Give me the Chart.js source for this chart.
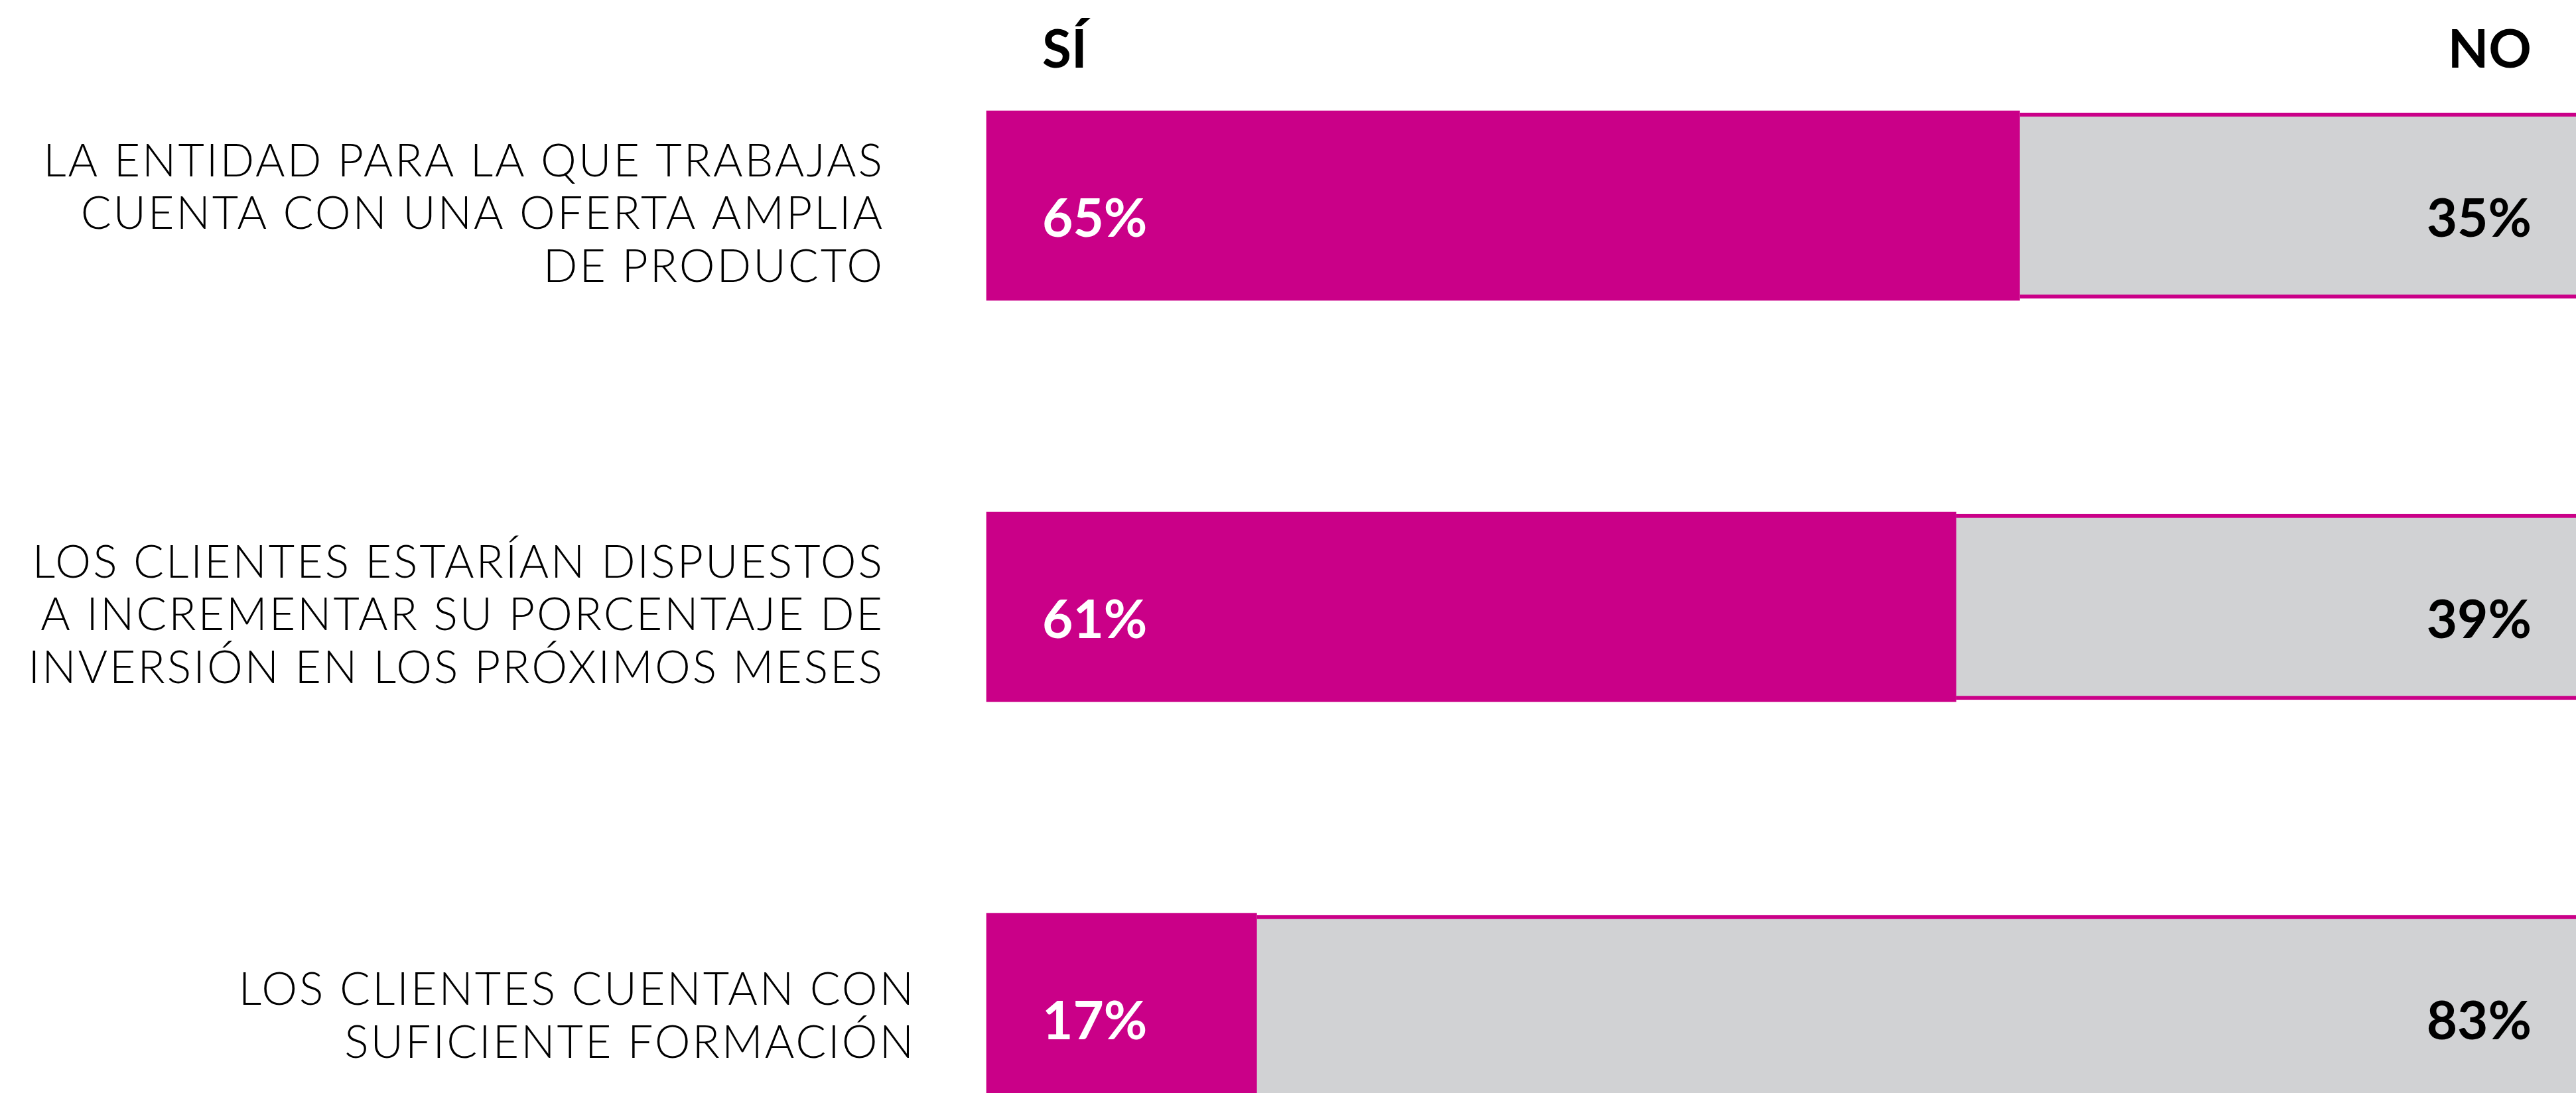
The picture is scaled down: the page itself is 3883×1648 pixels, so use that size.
<!DOCTYPE html>
<html lang="es">
<head>
<meta charset="utf-8">
<title>Encuesta: Sí / No</title>
<script src="https://cdn.jsdelivr.net/npm/chart.js@4/dist/chart.umd.min.js"></script>
<style>
  html, body { margin: 0; padding: 0; background: #ffffff; overflow: hidden; }
  #wrap { position: relative; width: 3883px; height: 1648px; }
</style>
</head>
<body>
<div id="wrap"><canvas id="chart"></canvas></div>
<script>
// Preguntas (cada una partida en líneas)
const categories = [
  ['LA ENTIDAD PARA LA QUE TRABAJAS', 'CUENTA CON UNA OFERTA AMPLIA', 'DE PRODUCTO'],
  ['LOS CLIENTES ESTARÍAN DISPUESTOS', 'A INCREMENTAR SU PORCENTAJE DE', 'INVERSIÓN EN LOS PRÓXIMOS MESES'],
  ['LOS CLIENTES CUENTAN CON', 'SUFICIENTE FORMACIÓN']
];
const seriesNames = ['SÍ', 'NO'];
const siValues = [65, 61, 17];
const noValues = [35, 39, 83];

const MAGENTA = '#ca0088';
const GREY = '#d1d2d4';

const LABEL_FONT = '300 68px Lato, "Open Sans", sans-serif';
const VALUE_FONT = '700 80px Lato, "Open Sans", sans-serif';

// Textos: cabeceras de serie, porcentajes y preguntas
const textPlugin = {
  id: 'texts',
  afterDatasetsDraw(chart) {
    const { ctx, scales } = chart;
    const x = scales.x, y = scales.y;
    const left = x.getPixelForValue(0);
    const right = x.getPixelForValue(100);
    ctx.save();

    // cabeceras SÍ / NO
    ctx.font = VALUE_FONT;
    ctx.fillStyle = '#000000';
    ctx.textBaseline = 'alphabetic';
    ctx.textAlign = 'left';
    ctx.fillText(chart.data.datasets[0].label, left + 84, 102);
    ctx.textAlign = 'right';
    ctx.fillText(chart.data.datasets[1].label, right - 67, 102);

    // porcentajes dentro de las barras
    chart.data.labels.forEach((_, i) => {
      const cy = y.getPixelForValue(i);
      ctx.font = VALUE_FONT;
      ctx.textAlign = 'left';
      ctx.fillStyle = '#ffffff';
      ctx.fillText(chart.data.datasets[0].data[i] + '%', left + 84, cy + 47);
      ctx.textAlign = 'right';
      ctx.fillStyle = '#000000';
      ctx.fillText(chart.data.datasets[1].data[i] + '%', right - 67, cy + 47);
    });

    // preguntas, alineadas a la derecha y algo espaciadas
    ctx.font = LABEL_FONT;
    const spacing = 3;
    if ('letterSpacing' in ctx) ctx.letterSpacing = spacing + 'px';
    ctx.fillStyle = '#000000';
    ctx.textAlign = 'right';
    const lineH = 79.5;
    chart.data.labels.forEach((lines, i) => {
      const cy = y.getPixelForValue(i);
      const edge = (i === chart.data.labels.length - 1 ? 1377 : 1330) + spacing;
      lines.forEach((line, j) => {
        const by = cy + 35 + (j - (lines.length - 1) / 2) * lineH;
        ctx.fillText(line, edge, by);
      });
    });
    ctx.restore();
  }
};

new Chart(document.getElementById('chart'), {
  type: 'bar',
  data: {
    labels: categories,
    datasets: [
      {
        label: seriesNames[0],
        data: siValues,
        backgroundColor: MAGENTA,
        borderWidth: 0,
        barThickness: 286,
        clip: false
      },
      {
        label: seriesNames[1],
        data: noValues,
        backgroundColor: GREY,
        borderColor: MAGENTA,
        borderWidth: { top: 6, bottom: 6, left: 0, right: 0 },
        borderSkipped: false,
        barThickness: 280,
        clip: false
      }
    ]
  },
  options: {
    indexAxis: 'y',
    responsive: true,
    maintainAspectRatio: false,
    animation: false,
    events: [],
    layout: { padding: { left: 1487, right: 0, top: 310, bottom: 128 } },
    scales: {
      x: { stacked: true, min: 0, max: 100, display: false },
      y: { stacked: true, offset: false, display: false }
    },
    plugins: {
      legend: { display: false },
      tooltip: { enabled: false }
    }
  },
  plugins: [textPlugin]
});
</script>
</body>
</html>
